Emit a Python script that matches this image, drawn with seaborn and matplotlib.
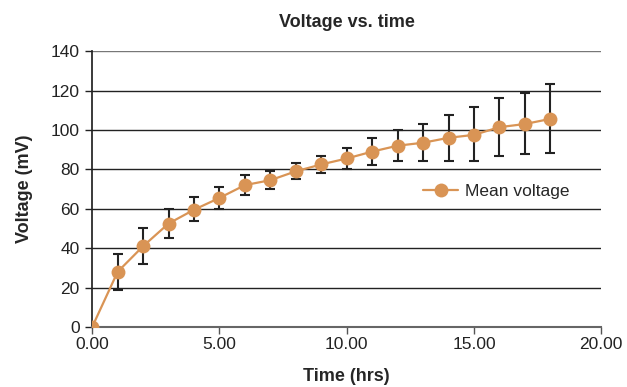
import matplotlib
matplotlib.use("Agg")
import matplotlib.pyplot as plt
import numpy as np
import pandas as pd
import seaborn as sns

# ---------------------------------------------------------------- data
time_hrs = [0, 1, 2, 3, 4, 5, 6, 7, 8, 9, 10, 11, 12, 13, 14, 15, 16, 17, 18]
mean_voltage = [0, 28, 41, 52.5, 59.5, 65.5, 72, 74.5, 79, 82.5, 85.5, 89, 92, 93.5, 96, 97.5, 101.4, 103, 105.6]
err_low = [0, 9, 9, 7.5, 5.5, 5.5, 5, 4.5, 4, 4.5, 5.5, 7, 8, 9.5, 11.7, 13.3, 14.6, 15.2, 17.3]
err_high = [0, 9, 9, 7.5, 6.5, 5.5, 5, 4.5, 4, 4.5, 5.5, 7, 8, 9.5, 11.5, 13.9, 14.6, 15.7, 17.6]
x_ticks = [0, 5, 10, 15, 20]
x_tick_labels = ["0.00", "5.00", "10.00", "15.00", "20.00"]
y_ticks = [0, 20, 40, 60, 80, 100, 120, 140]

ORANGE = "#D99455"

sns.set_theme(style="white")
plt.rcParams["font.family"] = ["Liberation Sans", "DejaVu Sans"]

df = pd.DataFrame({"time": time_hrs, "voltage": mean_voltage})

fig = plt.figure(figsize=(6.27, 3.87), dpi=100)
ax = fig.add_axes([0.147, 0.155, 0.812, 0.713])

for y in y_ticks[1:]:
    ax.axhline(y, color="#222222" if y < 140 else "#777777", lw=1.0, zorder=0)

ax.errorbar(time_hrs[1:], mean_voltage[1:],
            yerr=[err_low[1:], err_high[1:]],
            fmt="none", ecolor="#222222", elinewidth=1.5, capsize=3.5, capthick=1.5, zorder=2)

sns.lineplot(data=df, x="time", y="voltage", ax=ax, color=ORANGE, lw=1.6,
             marker="o", markersize=10, markeredgewidth=0, label="Mean voltage", zorder=3)

ax.set_xlim(0, 20)
ax.set_ylim(0, 140)
ax.set_xticks(x_ticks)
ax.set_xticklabels(x_tick_labels)
ax.set_yticks(y_ticks)
ax.tick_params(axis="both", labelsize=12.5, labelcolor="#222222", width=1,
               direction="out", bottom=True, left=True)
ax.tick_params(axis="x", colors="#555555", labelcolor="#222222", length=5, pad=2)
ax.tick_params(axis="y", colors="#222222", length=5, pad=4)

for side in ["top", "right"]:
    ax.spines[side].set_visible(False)
ax.spines["left"].set_color("#222222")
ax.spines["bottom"].set_color("#666666")
ax.spines["bottom"].set_linewidth(1.5)

ax.set_title("Voltage vs. time", fontsize=13, fontweight="bold", pad=17)
ax.set_xlabel("Time (hrs)", fontsize=13, fontweight="bold", labelpad=12)
ax.set_ylabel("Voltage (mV)", fontsize=13, fontweight="bold", labelpad=13)

leg = ax.legend(loc="center left", bbox_to_anchor=(0.62, 0.49), frameon=False,
                fontsize=12.5, handlelength=2.0, handletextpad=0.4)

fig.savefig("out.png", dpi=100)
